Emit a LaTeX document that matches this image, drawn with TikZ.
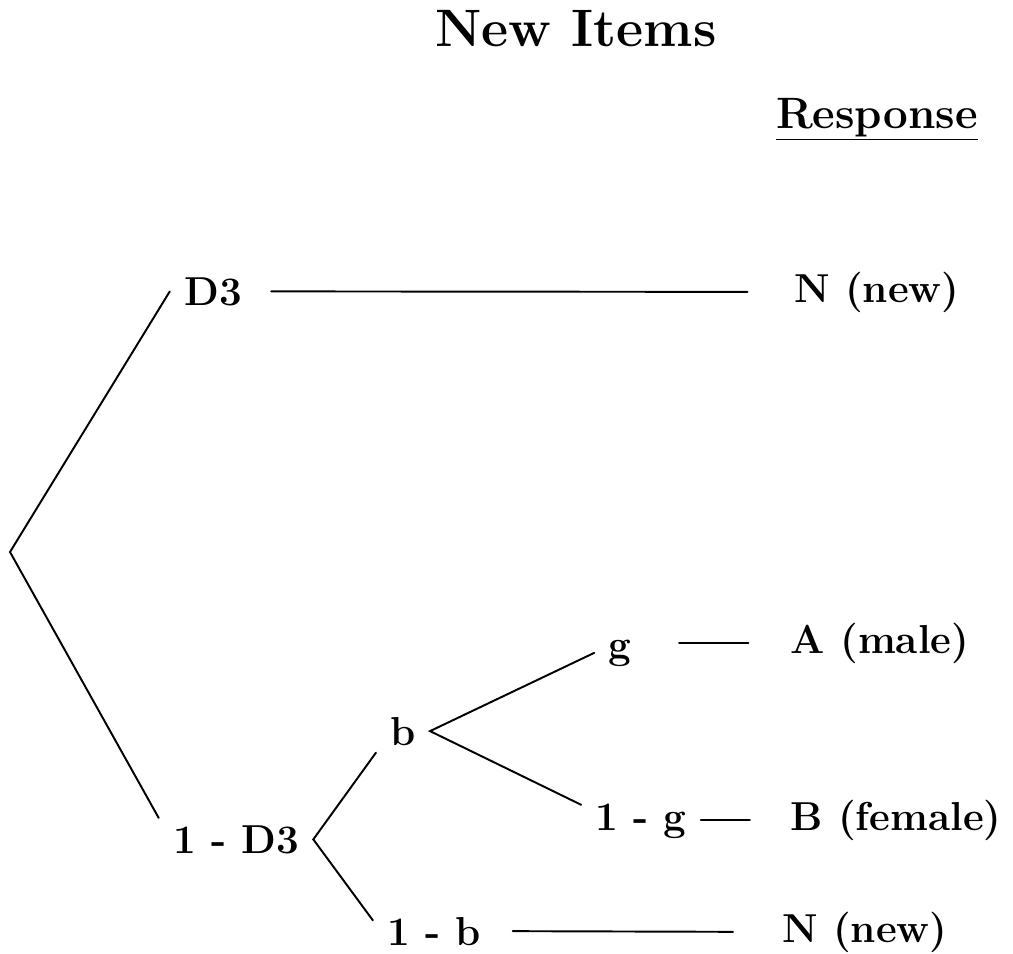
\documentclass[tikz,border=0pt]{standalone}
\usepackage{fontspec}
\usetikzlibrary{calc}

\tikzset{
 lbl/.style={inner xsep=8pt,inner ysep=4pt,anchor=base,font=\fontsize{23}{27}\selectfont\bfseries},
 branch/.style={line width=1.1pt}
}

\begin{document}
\begin{tikzpicture}[x=0.02cm,y=-0.02cm,line cap=round]
\useasboundingbox (0,0) rectangle (1013,953);
\node[lbl,font=\fontsize{30}{36}\selectfont\bfseries] (title) at (576,47) {New Items};
\node[lbl,font=\fontsize{25}{30}\selectfont\bfseries] (resp) at (877,128) {\underline{Response}};
% tree labels, placed at their baselines
\coordinate (root) at (10,552);
\node[lbl] (d3) at (213,305) {D3};
\node[lbl] (n1) at (877,302) {N (new)};
\node[lbl] (omd3) at (236,853) {1 - D3};
\node[lbl] (b) at (403,745) {b};
\node[lbl] (omb) at (434,945) {1 - b};
\node[lbl] (n2) at (865,942) {N (new)};
\node[lbl] (g) at (620,658) {g};
\node[lbl] (a) at (880,653) {A (male)};
\node[lbl] (omg) at (641,830) {1 - g};
\node[lbl] (bf) at (896,830) {B (female)};
\draw[branch] (d3.west) -- (root) -- (omd3.north west);
\draw[branch] (b.south west) -- (omd3.east) -- (omb.170);
\draw[branch] (g.west) -- (b.east) -- (omg.165);
% response lines
\draw[branch,shorten <=8.5pt,shorten >=18.5pt] (d3.east) -- (n1.west);
\draw[branch,shorten <=19pt,shorten >=16pt] (g.east |- a.west) -- (a.west);
\draw[branch,shorten >=15pt] (omg.east |- bf.west) -- (bf.west);
\draw[branch,shorten <=10pt,shorten >=20pt] (omb.east) -- (n2.west);
\end{tikzpicture}
\end{document}
